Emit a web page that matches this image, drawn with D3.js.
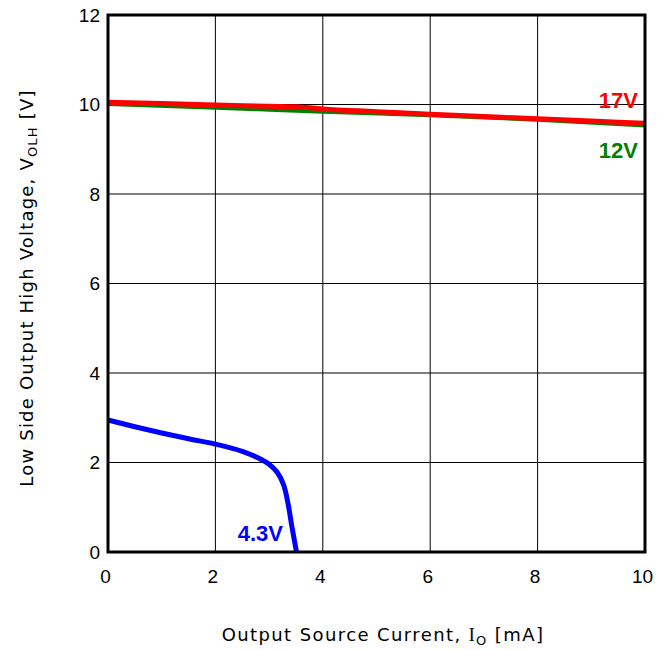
<!DOCTYPE html>
<html>
<head>
<meta charset="utf-8">
<script src="https://cdn.jsdelivr.net/npm/d3@7"></script>
<style>
  body { margin: 0; background: #fff; }
  text { font-family: "Liberation Sans", Arial, sans-serif; }
</style>
</head>
<body>
<svg id="chart" width="669" height="650"></svg>
<script>
"use strict";

var xTicks = [0, 2, 4, 6, 8, 10];
var yTicks = [0, 2, 4, 6, 8, 10, 12];

var curr12 = [0, 2, 4, 6, 8, 10];
var volt12 = [10.01, 9.93, 9.84, 9.76, 9.66, 9.53];

var curr17 = [0, 1, 2, 3, 3.5, 4, 5, 6, 7, 8, 9, 10];
var volt17 = [10.05, 10.02, 9.99, 9.96, 9.95, 9.90, 9.84, 9.78, 9.73, 9.68, 9.63, 9.58];

var curr43 = [0, 0.5, 1, 1.5, 2, 2.5, 2.8, 3.0, 3.15, 3.27, 3.35, 3.42, 3.51];
var volt43 = [2.95, 2.8, 2.66, 2.53, 2.41, 2.25, 2.1, 1.96, 1.78, 1.5, 1.1, 0.6, 0];

var margin = { left: 108, top: 15, right: 645, bottom: 552 };
var svg = d3.select("#chart");
var titleFont = "'DejaVu Sans', sans-serif";

var x = d3.scaleLinear().domain([0, 10]).range([margin.left, margin.right]);
var y = d3.scaleLinear().domain([0, 12]).range([margin.bottom, margin.top]);

function toPoints(xs, ys) {
    return xs.map(function(d, i) { return [d, ys[i]]; });
}

// grid
svg.append("g").selectAll("line")
    .data(xTicks.slice(1, -1))
    .enter().append("line")
    .attr("x1", function(d) { return x(d); })
    .attr("x2", function(d) { return x(d); })
    .attr("y1", margin.top).attr("y2", margin.bottom)
    .attr("stroke", "#000").attr("stroke-width", 1);

svg.append("g").selectAll("line")
    .data(yTicks.slice(1, -1))
    .enter().append("line")
    .attr("y1", function(d) { return y(d); })
    .attr("y2", function(d) { return y(d); })
    .attr("x1", margin.left).attr("x2", margin.right)
    .attr("stroke", "#000").attr("stroke-width", 1);

// tick labels
var xAxis = d3.axisBottom(x).tickValues(xTicks).tickSize(0).tickPadding(18);
var gx = svg.append("g").attr("transform", "translate(-3," + margin.bottom + ")").call(xAxis);
gx.select(".domain").remove();
gx.selectAll("text").attr("font-size", 19).attr("fill", "#000")
    .style("font-family", "'Liberation Sans', Arial, sans-serif");

var yAxis = d3.axisLeft(y).tickValues(yTicks).tickSize(0).tickPadding(8);
var gy = svg.append("g").attr("transform", "translate(" + margin.left + ",0)").call(yAxis);
gy.select(".domain").remove();
gy.selectAll("text").attr("font-size", 19).attr("fill", "#000")
    .style("font-family", "'Liberation Sans', Arial, sans-serif");

// curves
var line = d3.line()
    .curve(d3.curveMonotoneX)
    .x(function(d) { return x(d[0]); })
    .y(function(d) { return y(d[1]); });

svg.append("path").datum(toPoints(curr12, volt12))
    .attr("d", line).attr("fill", "none")
    .attr("stroke", "#008000").attr("stroke-width", 4);

svg.append("path").datum(toPoints(curr17, volt17))
    .attr("d", line).attr("fill", "none")
    .attr("stroke", "#ff0000").attr("stroke-width", 5);

svg.append("path").datum(toPoints(curr43, volt43))
    .attr("d", d3.line().curve(d3.curveCatmullRom)
        .x(function(d) { return x(d[0]); })
        .y(function(d) { return y(d[1]); }))
    .attr("fill", "none")
    .attr("stroke", "#0000ff").attr("stroke-width", 5);

// frame
svg.append("rect")
    .attr("x", margin.left).attr("y", margin.top)
    .attr("width", margin.right - margin.left)
    .attr("height", margin.bottom - margin.top)
    .attr("fill", "none").attr("stroke", "#000").attr("stroke-width", 3);

// series labels
svg.append("text").attr("x", 638).attr("y", 108).attr("text-anchor", "end")
    .attr("font-size", 22).attr("font-weight", "bold").attr("fill", "#ff0000").text("17V");
svg.append("text").attr("x", 638).attr("y", 158).attr("text-anchor", "end")
    .attr("font-size", 22).attr("font-weight", "bold").attr("fill", "#008000").text("12V");
svg.append("text").attr("x", 283).attr("y", 541).attr("text-anchor", "end")
    .attr("font-size", 22).attr("font-weight", "bold").attr("fill", "#0000ff").text("4.3V");

// axis titles
var xt = svg.append("text").attr("x", 383).attr("y", 641).attr("text-anchor", "middle")
    .attr("font-size", 18).attr("fill", "#000")
    .style("font-family", titleFont).style("letter-spacing", "1.4px");
xt.append("tspan").text("Output Source Current, ");
xt.append("tspan").style("font-family", "'Liberation Serif', serif").text("I");
xt.append("tspan").attr("font-size", 13).attr("dy", 4).text("O");
xt.append("tspan").attr("dy", -4).text(" [mA]");

var yt = svg.append("text")
    .attr("transform", "translate(33,288) rotate(-90)")
    .attr("text-anchor", "middle").attr("font-size", 18).attr("fill", "#000")
    .style("font-family", titleFont).style("letter-spacing", "1.2px");
yt.append("tspan").text("Low Side Output High Voltage, V");
yt.append("tspan").attr("font-size", 13).attr("dy", 4).text("OLH");
yt.append("tspan").attr("dy", -4).text(" [V]");
</script>
</body>
</html>
